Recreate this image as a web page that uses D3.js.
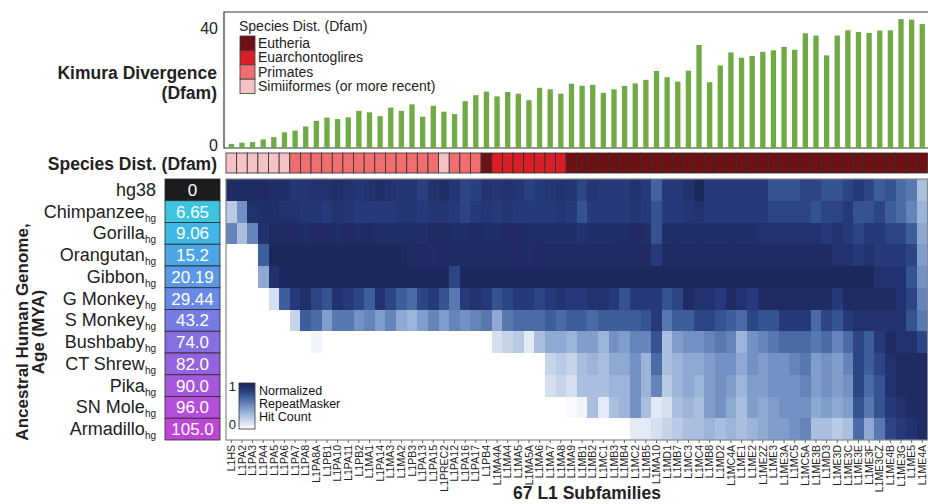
<!DOCTYPE html>
<html>
<head>
<meta charset="utf-8">
<script src="https://cdn.jsdelivr.net/npm/d3@7"></script>
<style>
  body { margin: 0; background: #fff; }
  svg { font-family: "Liberation Sans", Arial, Helvetica, sans-serif; }
</style>
</head>
<body>
<div id="chart"></div>
<script>
// L1 subfamilies, left to right
var subfamilies = ["L1HS","L1PA2","L1PA3","L1PA4","L1PA5","L1PA6","L1PA7","L1PA8","L1PA8A","L1PB1",
  "L1PA10","L1PA11","L1PB2","L1MA1","L1PA14","L1MA3","L1MA2","L1PB3","L1PA13","L1PA15",
  "L1PREC2","L1PA12","L1PA16","L1PA17","L1PB4","L1MA4A","L1MA4","L1MA5","L1MA5A","L1MA6",
  "L1MA7","L1MA8","L1MA9","L1MB1","L1MB2","L1MC1","L1MB3","L1MB4","L1MC2","L1MB5",
  "L1MA10","L1MD1","L1MB7","L1MC3","L1MC4","L1MB8","L1MD2","L1MC4A","L1ME1","L1ME2",
  "L1ME2Z","L1ME3","L1ME3A","L1MC5","L1MC5A","L1ME3B","L1MD3","L1ME3D","L1ME3C","L1ME3E",
  "L1ME3F","L1ME3CZ","L1ME4B","L1ME3G","L1ME5","L1ME4A"];

// Kimura divergence (Dfam)
var kimura = [1.4,1.8,2.0,2.9,3.7,5.3,5.9,7.3,9.2,10.3,
  9.8,10.4,12.6,12.1,10.8,13.7,12.6,14.8,10.6,14.3,
  12.3,11.5,15.9,17.9,19.1,17.5,19.0,18.4,16.2,20.4,
  19.9,18.4,21.8,21.1,21.4,18.7,19.9,21.0,21.9,23.1,
  26.1,24.0,22.5,26.2,34.9,22.3,28.0,32.4,30.6,31.2,
  32.6,33.1,34.3,33.3,38.9,38.1,31.4,38.1,39.9,39.3,
  39.0,39.8,39.9,43.7,43.5,42.0];

// species distribution code per subfamily: E Eutheria, U Euarchontoglires, P Primates, S Simiiformes
var speciesDist = ["S","S","S","S","S","S","P","P","P","P",
  "P","P","P","P","P","P","P","P","P","P",
  "S","P","P","P","E","U","U","U","U","U",
  "U","U","E","E","E","E","E","E","E","E",
  "E","E","E","E","E","E","E","E","E","E",
  "E","E","E","E","E","E","E","E","E","E",
  "E","E","E","E","E","E"];
var speciesKeys = ["E","U","P","S"];
var speciesNames = ["Eutheria","Euarchontoglires","Primates","Simiiformes (or more recent)"];

// ancestral human genomes
var genomes = ["hg38","Chimpanzee","Gorilla","Orangutan","Gibbon","G Monkey","S Monkey",
  "Bushbaby","CT Shrew","Pika","SN Mole","Armadillo"];
var ages = ["0","6.65","9.06","15.2","20.19","29.44","43.2","74.0","82.0","90.0","96.0","105.0"];

// normalized RepeatMasker hit counts, one array per genome
var hg38Hits = [0.95,0.95,0.95,0.95,0.93,0.93,0.88,0.88,0.9,0.9,0.92,0.9,0.88,0.9,0.92,0.9,0.88,
  0.88,0.82,0.9,0.92,0.88,0.8,0.82,0.9,0.88,0.9,0.88,0.82,0.85,0.88,0.9,0.88,
  0.8,0.88,0.85,0.85,0.85,0.9,0.85,0.68,0.85,0.85,0.9,0.97,0.85,0.85,0.85,0.85,0.85,
  0.85,0.75,0.75,0.75,0.8,0.8,0.75,0.75,0.8,0.85,0.8,0.7,0.75,0.65,0.6,0.3];
var chimpHits = [0.25,0.5,0.9,0.92,0.92,0.9,0.9,0.88,0.88,0.85,0.9,0.88,0.85,0.85,0.85,0.85,0.88,
  0.88,0.85,0.88,0.88,0.85,0.8,0.85,0.88,0.85,0.88,0.85,0.85,0.85,0.85,0.88,0.85,
  0.75,0.85,0.85,0.85,0.85,0.88,0.85,0.75,0.85,0.85,0.88,0.9,0.85,0.85,0.85,0.85,0.85,
  0.85,0.8,0.8,0.8,0.8,0.75,0.8,0.8,0.85,0.75,0.75,0.8,0.7,0.65,0.55,0.35];
var gorillaHits = [0.55,0.3,0.55,0.9,0.95,0.95,0.95,0.93,0.95,0.95,0.93,0.95,0.93,0.95,0.93,0.93,0.93,
  0.93,0.92,0.95,0.95,0.93,0.93,0.95,0.93,0.93,0.95,0.95,0.93,0.93,0.92,0.92,0.92,
  0.9,0.92,0.92,0.93,0.93,0.95,0.92,0.75,0.92,0.93,0.92,0.93,0.92,0.92,0.93,0.92,0.92,
  0.9,0.9,0.9,0.9,0.9,0.9,0.85,0.9,0.85,0.8,0.85,0.85,0.8,0.8,0.7,0.4];
var orangutanHits = [0,0,0,0.7,0.97,0.97,0.97,0.97,0.97,0.97,0.97,0.97,0.97,0.97,0.97,0.97,0.97,
  0.95,0.95,0.93,0.95,0.95,0.95,0.95,0.95,0.95,0.95,0.95,0.93,0.95,0.95,0.95,0.95,
  0.95,0.95,0.95,0.95,0.95,0.95,0.95,0.85,0.95,0.95,0.95,0.95,0.95,0.95,0.95,0.95,0.95,
  0.95,0.95,0.95,0.95,0.95,0.95,0.95,0.9,0.9,0.85,0.9,0.85,0.85,0.85,0.8,0.45];
var gibbonHits = [0,0,0,0.4,0.9,0.97,0.97,0.97,0.97,0.97,0.97,0.97,0.97,0.97,0.97,0.97,0.97,
  0.97,0.97,0.97,0.97,0.8,0.97,0.97,0.97,0.97,0.97,0.97,0.97,0.97,0.97,0.97,0.97,
  0.97,0.97,0.97,0.97,0.97,0.97,0.97,0.97,0.97,0.97,0.97,0.97,0.97,0.97,0.97,0.97,0.97,
  0.97,0.97,0.97,0.97,0.97,0.97,0.97,0.97,0.97,0.97,0.97,0.9,0.9,0.9,0.75,0.5];
var gMonkeyHits = [0,0,0,0,0.15,0.7,0.85,0.92,0.8,0.75,0.9,0.85,0.8,0.7,0.9,0.8,0.7,
  0.65,0.8,0.85,0.75,0.6,0.85,0.9,0.85,0.75,0.8,0.85,0.85,0.8,0.85,0.9,0.85,
  0.85,0.9,0.9,0.85,0.75,0.85,0.85,0.85,0.75,0.8,0.95,0.9,0.9,0.85,0.95,0.9,0.85,
  0.95,0.95,0.95,0.95,0.95,0.95,0.95,0.85,0.95,0.95,0.95,0.95,0.95,0.9,0.8,0.55];
var sMonkeyHits = [0,0,0,0,0,0,0.2,0.7,0.65,0.45,0.6,0.6,0.5,0.55,0.45,0.55,0.4,
  0.35,0.45,0.55,0.45,0.55,0.5,0.55,0.6,0.4,0.6,0.65,0.65,0.65,0.7,0.65,0.7,
  0.7,0.65,0.7,0.7,0.7,0.7,0.75,0.85,0.6,0.7,0.7,0.8,0.8,0.75,0.7,0.65,0.8,
  0.75,0.75,0.85,0.85,0.85,0.65,0.8,0.75,0.85,0.9,0.9,0.9,0.9,0.9,0.75,0.6];
var bushbabyHits = [0,0,0,0,0,0,0,0,0.05,0,0,0,0,0,0,0,0,
  0,0,0,0,0,0,0,0,0.15,0.2,0.25,0.1,0.3,0.4,0.4,0.35,
  0.45,0.45,0.35,0.5,0.45,0.55,0.55,0.75,0.3,0.45,0.5,0.5,0.55,0.6,0.55,0.35,0.5,
  0.55,0.6,0.65,0.65,0.65,0.6,0.65,0.55,0.65,0.8,0.7,0.85,0.95,0.9,0.9,0.8];
var ctShrewHits = [0,0,0,0,0,0,0,0,0,0,0,0,0,0,0,0,0,
  0,0,0,0,0,0,0,0,0,0,0,0,0,0.2,0.25,0.2,
  0.3,0.35,0.3,0.4,0.4,0.5,0.35,0.65,0.3,0.35,0.4,0.4,0.45,0.5,0.5,0.4,0.5,
  0.45,0.5,0.5,0.55,0.6,0.45,0.5,0.45,0.55,0.8,0.7,0.8,0.9,0.95,0.95,0.95];
var pikaHits = [0,0,0,0,0,0,0,0,0,0,0,0,0,0,0,0,0,
  0,0,0,0,0,0,0,0,0,0,0,0,0,0.15,0.2,0.15,
  0.3,0.3,0.3,0.35,0.35,0.5,0.35,0.55,0.25,0.35,0.4,0.35,0.45,0.5,0.45,0.35,0.45,
  0.45,0.5,0.5,0.5,0.55,0.45,0.5,0.45,0.5,0.8,0.65,0.75,0.9,0.95,0.95,0.95];
var snMoleHits = [0,0,0,0,0,0,0,0,0,0,0,0,0,0,0,0,0,
  0,0,0,0,0,0,0,0,0,0,0,0,0,0,0,0.03,
  0.05,0.3,0.1,0.3,0.35,0.5,0.3,0.1,0.15,0.3,0.35,0.3,0.45,0.5,0.4,0.3,0.45,
  0.4,0.45,0.5,0.5,0.5,0.4,0.45,0.4,0.45,0.75,0.6,0.75,0.85,0.9,0.95,0.95];
var armadilloHits = [0,0,0,0,0,0,0,0,0,0,0,0,0,0,0,0,0,
  0,0,0,0,0,0,0,0,0,0,0,0,0,0,0,0,
  0,0,0,0,0,0.1,0.1,0.15,0.2,0.25,0.3,0.3,0.35,0.3,0.35,0.3,0.35,
  0.4,0.45,0.45,0.5,0.55,0.3,0.3,0.25,0.3,0.65,0.4,0.6,0.8,0.85,0.9,0.95];
var hitRows = [hg38Hits, chimpHits, gorillaHits, orangutanHits, gibbonHits, gMonkeyHits,
  sMonkeyHits, bushbabyHits, ctShrewHits, pikaHits, snMoleHits, armadilloHits];

// styles
var speciesColors = {E: "#6e1114", U: "#d81f27", P: "#f06d70", S: "#f5c2c5"};
var ageColors = ["#1c1c1c","#3ec4df","#3fb6e3","#4ca6e6","#5a98e7","#6889e6","#777ce4",
  "#866fe1","#9563de","#a458db","#b24ed9","#be45d6"];
var heatColor = d3.scaleLinear()
  .domain([0, 0.3, 0.5, 0.7, 0.85, 1])
  .range(["#ffffff", "#aabfe0", "#7391c4", "#3d5e9c", "#26397a", "#1b2456"]);

var width = 928, height = 504;
var svg = d3.select("#chart").append("svg")
  .attr("width", width)
  .attr("height", height);

var x = d3.scaleBand()
  .domain(subfamilies)
  .range([226, 226 + subfamilies.length * 10.63]);
var bw = x.bandwidth();

// ---- Kimura divergence bars ----
var yK = d3.scaleLinear().domain([0, 46.1]).range([148, 12]);

svg.append("path")
  .attr("d", "M928,12H224V148H928")
  .attr("fill", "none")
  .attr("stroke", "#333")
  .attr("stroke-width", 1.2);

svg.selectAll(".kbar")
  .data(kimura)
  .enter()
  .append("rect")
    .attr("class", "kbar")
    .attr("x", (d, i) => x(subfamilies[i]) + bw * 0.25)
    .attr("y", d => yK(d))
    .attr("width", bw * 0.5)
    .attr("height", d => yK(0) - yK(d))
    .attr("fill", "#6faa44");

var kAxis = svg.append("g")
  .attr("transform", "translate(224,0)")
  .call(d3.axisLeft(yK).tickValues([0, 40]).tickSize(0).tickPadding(6));
kAxis.select(".domain").remove();
kAxis.selectAll("text")
  .attr("font-size", "16px")
  .attr("font-family", "Liberation Sans, Arial, sans-serif")
  .attr("fill", "#222")
  .attr("dy", d => d === 0 ? "0.15em" : "0.25em");

svg.append("text")
  .attr("x", 217).attr("y", 79)
  .attr("text-anchor", "end")
  .attr("font-size", "17.5px").attr("font-weight", "bold").attr("fill", "#222")
  .text("Kimura Divergence");
svg.append("text")
  .attr("x", 217).attr("y", 99)
  .attr("text-anchor", "end")
  .attr("font-size", "17.5px").attr("font-weight", "bold").attr("fill", "#222")
  .text("(Dfam)");

// species legend
svg.append("text")
  .attr("x", 239).attr("y", 31)
  .attr("font-size", "14px").attr("fill", "#222")
  .text("Species Dist. (Dfam)");
var leg = svg.selectAll(".sleg")
  .data(speciesKeys)
  .enter()
  .append("g")
    .attr("class", "sleg")
    .attr("transform", (d, i) => "translate(240," + (36 + i * 14.4) + ")");
leg.append("rect")
  .attr("width", 15).attr("height", 14.4)
  .attr("fill", d => speciesColors[d])
  .attr("stroke", "#3a3a3a").attr("stroke-width", 0.8);
leg.append("text")
  .attr("x", 18).attr("y", 12)
  .attr("font-size", "14px").attr("fill", "#222")
  .text((d, i) => speciesNames[i]);

// ---- species distribution strip ----
svg.selectAll(".scell")
  .data(speciesDist)
  .enter()
  .append("rect")
    .attr("class", "scell")
    .attr("x", (d, i) => x(subfamilies[i]))
    .attr("y", 153)
    .attr("width", bw)
    .attr("height", 20)
    .attr("fill", d => speciesColors[d])
    .attr("stroke", "#2e2e2e")
    .attr("stroke-width", 0.8);

svg.append("text")
  .attr("x", 217).attr("y", 170)
  .attr("text-anchor", "end")
  .attr("font-size", "17.5px").attr("font-weight", "bold").attr("fill", "#222")
  .text("Species Dist. (Dfam)");

// ---- heatmap ----
var yR = d3.scaleBand().domain(genomes).range([179, 440]);
var rh = yR.bandwidth();

var cells = [];
hitRows.forEach(function(row, r) {
  row.forEach(function(v, c) {
    cells.push({genome: genomes[r], sub: subfamilies[c], value: v});
  });
});

svg.append("g")
  .attr("shape-rendering", "crispEdges")
  .selectAll("rect")
  .data(cells)
  .enter()
  .append("rect")
    .attr("x", d => x(d.sub))
    .attr("y", d => yR(d.genome))
    .attr("width", bw + 0.4)
    .attr("height", rh + 0.4)
    .attr("fill", d => heatColor(d.value));

svg.append("rect")
  .attr("x", 226).attr("y", 179)
  .attr("width", x.range()[1] - 226).attr("height", 261)
  .attr("fill", "none")
  .attr("stroke", "#888")
  .attr("stroke-width", 1.2);

// hit count legend
var grad = svg.append("defs").append("linearGradient")
  .attr("id", "hitgrad")
  .attr("x1", 0).attr("y1", 1).attr("x2", 0).attr("y2", 0);
heatColor.domain().forEach(function(v) {
  grad.append("stop").attr("offset", v).attr("stop-color", heatColor(v));
});
svg.append("rect")
  .attr("x", 239).attr("y", 383)
  .attr("width", 16).attr("height", 46)
  .attr("fill", "url(#hitgrad)")
  .attr("stroke", "#333").attr("stroke-width", 0.8);
svg.append("text").attr("x", 236).attr("y", 391).attr("text-anchor", "end")
  .attr("font-size", "13px").attr("fill", "#222").text("1");
svg.append("text").attr("x", 236).attr("y", 429).attr("text-anchor", "end")
  .attr("font-size", "13px").attr("fill", "#222").text("0");
["Normalized", "RepeatMasker", "Hit Count"].forEach(function(t, i) {
  svg.append("text")
    .attr("x", 259).attr("y", 395 + i * 13.2)
    .attr("font-size", "12.5px").attr("fill", "#111")
    .text(t);
});

// subfamily axis
var xAxis = svg.append("g")
  .attr("transform", "translate(0,440)")
  .call(d3.axisBottom(x).tickSize(3));
xAxis.select(".domain").remove();
xAxis.selectAll("line").attr("stroke", "#666");
xAxis.selectAll("text")
  .attr("transform", "rotate(-90)")
  .attr("text-anchor", "end")
  .attr("x", -5)
  .attr("y", 0)
  .attr("dy", "0.35em")
  .attr("font-size", "10.5px")
  .attr("font-family", "Liberation Sans, Arial, sans-serif")
  .attr("fill", "#222");

svg.append("text")
  .attr("x", 587).attr("y", 499)
  .attr("text-anchor", "middle")
  .attr("font-size", "17.5px").attr("font-weight", "bold").attr("fill", "#222")
  .text("67 L1 Subfamilies");

// ---- genome labels and age boxes ----
var ageBox = svg.selectAll(".age")
  .data(genomes)
  .enter()
  .append("g")
    .attr("class", "age")
    .attr("transform", d => "translate(165," + yR(d) + ")");
ageBox.append("rect")
  .attr("width", 55).attr("height", rh)
  .attr("fill", (d, i) => ageColors[i])
  .attr("stroke", "#2a2a2a").attr("stroke-width", 0.8);
ageBox.append("text")
  .attr("x", 27.5).attr("y", rh / 2 + 6)
  .attr("text-anchor", "middle")
  .attr("font-size", "17px").attr("fill", "#fff")
  .text((d, i) => ages[i]);

var gLabel = svg.selectAll(".glabel")
  .data(genomes)
  .enter()
  .append("text")
    .attr("class", "glabel")
    .attr("x", 156)
    .attr("y", d => yR(d) + rh / 2 + 6)
    .attr("text-anchor", "end")
    .attr("font-size", "18px")
    .attr("fill", "#222");
gLabel.append("tspan").text(d => d);
gLabel.filter((d, i) => i > 0)
  .append("tspan")
    .attr("font-size", "10px")
    .attr("dy", 4)
    .text("hg");

svg.append("text")
  .attr("transform", "translate(28,332) rotate(-90)")
  .attr("text-anchor", "middle")
  .attr("font-size", "17px").attr("font-weight", "bold").attr("fill", "#222")
  .text("Ancestral Human Genome,");
svg.append("text")
  .attr("transform", "translate(44,332) rotate(-90)")
  .attr("text-anchor", "middle")
  .attr("font-size", "17px").attr("font-weight", "bold").attr("fill", "#222")
  .text("Age (MYA)");
</script>
</body>
</html>
